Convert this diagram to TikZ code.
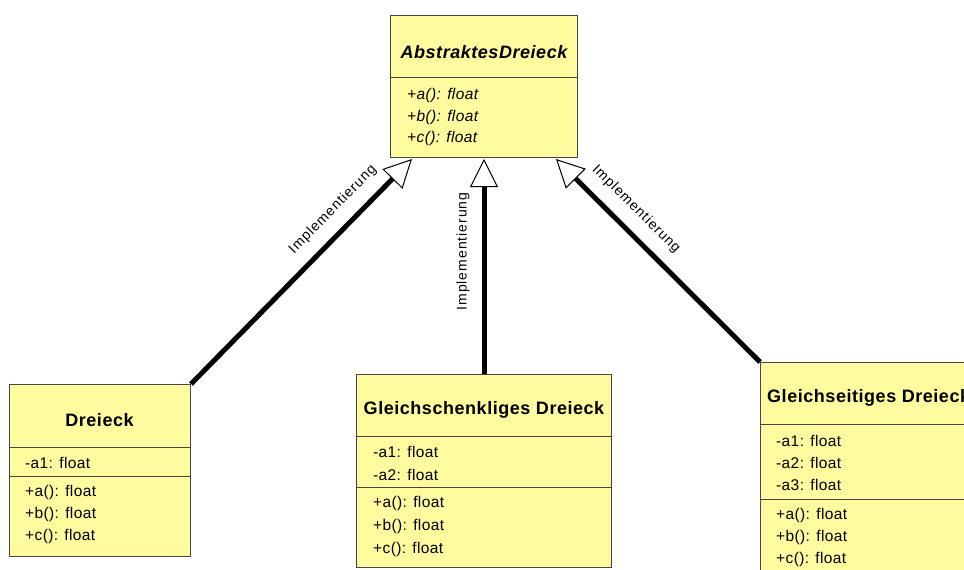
\documentclass[tikz,border=0pt]{standalone}
\usepackage{fontspec}
\setmainfont{Liberation Sans}
\newfontfamily\titlefont[LetterSpace=3]{Liberation Sans}
\newfontfamily\memberfont[LetterSpace=2.5]{Liberation Sans}
\newfontfamily\labelfont[LetterSpace=7]{Liberation Sans}
\usetikzlibrary{arrows.meta}
\definecolor{classfill}{RGB}{255,251,158}
\definecolor{boxline}{RGB}{70,70,70}
\begin{document}
\begin{tikzpicture}[x=1pt,y=-1pt,
  classbox/.style={draw=boxline, fill=classfill, line width=1pt, inner sep=0pt, anchor=north west},
  sepline/.style={draw=boxline, line width=1pt},
  classtitle/.style={inner sep=0pt, font=\titlefont\bfseries\fontsize{18}{21}\selectfont},
  member/.style={inner sep=0pt, anchor=west, font=\memberfont\fontsize{15.5}{18}\selectfont},
  impl/.style={line width=5pt, -{Triangle[length=28pt,width=28pt,fill=white,line width=1pt]}},
  implabel/.style={inner sep=0pt, sloped, above=12pt, font=\labelfont\fontsize{14}{16}\selectfont}]
\useasboundingbox (0,0) rectangle (964,570);
\clip (0,0) rectangle (964,570);

% abstract base class
\node[classbox, minimum width=187pt, minimum height=142pt] (abs) at (390,15) {};
\draw[sepline] (abs.west |- 0,77) -- (abs.east |- 0,77);
\node[classtitle] (absT) at (484,52) {\itshape AbstraktesDreieck};
\node[member] (absA) at (407,95) {\itshape +a(): float};
\node[member] (absB) at (407,117) {\itshape +b(): float};
\node[member] (absC) at (407,138) {\itshape +c(): float};

% Dreieck
\node[classbox, minimum width=181pt, minimum height=172pt] (dre) at (9,384) {};
\draw[sepline] (dre.west |- 0,447) -- (dre.east |- 0,447);
\draw[sepline] (dre.west |- 0,476) -- (dre.east |- 0,476);
\node[classtitle] (dreT) at (99.5,420) {Dreieck};
\node[member] (dreA1) at (25,463) {-a1: float};
\node[member] (dreA) at (25,492) {+a(): float};
\node[member] (dreB) at (25,514) {+b(): float};
\node[member] (dreC) at (25,536) {+c(): float};

% Gleichschenkliges Dreieck
\node[classbox, minimum width=255pt, minimum height=193pt] (mid) at (356,374) {};
\draw[sepline] (mid.west |- 0,436) -- (mid.east |- 0,436);
\draw[sepline] (mid.west |- 0,487) -- (mid.east |- 0,487);
\node[classtitle] (midT) at (484,410) {Gleichschenkliges Dreieck};
\node[member] (midA1) at (373,452) {-a1: float};
\node[member] (midA2) at (373,475) {-a2: float};
\node[member] (midA) at (373,503) {+a(): float};
\node[member] (midB) at (373,526) {+b(): float};
\node[member] (midC) at (373,549) {+c(): float};

% Gleichseitiges Dreieck
\node[classbox, minimum width=240pt, minimum height=240pt] (rgt) at (760,362) {};
\draw[sepline] (rgt.west |- 0,424) -- (rgt.east |- 0,424);
\draw[sepline] (rgt.west |- 0,499) -- (rgt.east |- 0,499);
\node[classtitle, anchor=west] (rgtT) at (767,398) {Gleichseitiges Dreieck};
\node[member] (rgtA1) at (776,441) {-a1: float};
\node[member] (rgtA2) at (776,463) {-a2: float};
\node[member] (rgtA3) at (776,485) {-a3: float};
\node[member] (rgtA) at (776,515) {+a(): float};
\node[member] (rgtB) at (776,537) {+b(): float};
\node[member] (rgtC) at (776,559) {+c(): float};

% realization arrows
\coordinate (tipL) at (412,159);
\coordinate (tipM) at (484,159);
\coordinate (tipR) at (556,159);
\draw[impl] (dre.north east) -- node[implabel, pos=0.71] (lblL) {Implementierung} (tipL);
\draw[impl] (mid.north) -- node[implabel, pos=0.57] (lblM) {Implementierung} (tipM);
\draw[impl] (rgt.north west) -- node[implabel, pos=0.68] (lblR) {Implementierung} (tipR);
\end{tikzpicture}
\end{document}
